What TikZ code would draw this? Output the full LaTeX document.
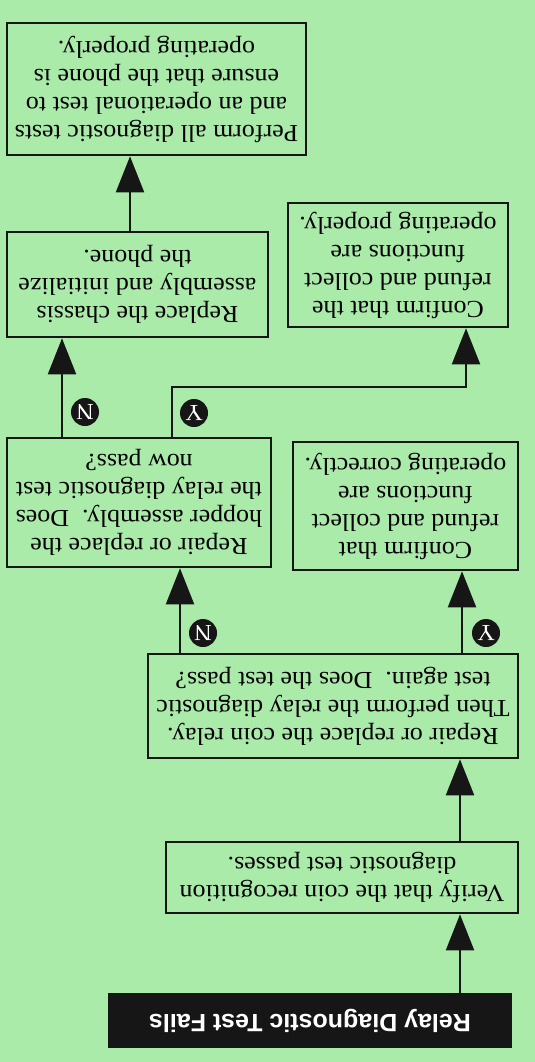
\documentclass[tikz,border=0pt]{standalone}
\usepackage{fontspec}
\setmainfont{Liberation Serif}[FakeStretch=1.06]
\newfontfamily\titlefont{Liberation Sans}
\usetikzlibrary{arrows.meta}
\definecolor{bg}{RGB}{170,235,170}
\definecolor{ink}{RGB}{22,22,22}
\tikzset{
  box/.style={draw=ink, line width=2.6pt, fill=bg, rotate=180, align=center,
    inner sep=0pt, font=\fontsize{24.5}{28}\selectfont},
  titlebox/.style={fill=ink, rotate=180, inner sep=0pt, text=white,
    font=\titlefont\bfseries\fontsize{25}{28}\selectfont},
  arr/.style={draw=ink, line width=2pt, -{Triangle[width=28pt,length=36pt]}},
  tag/.style={circle, fill=ink, inner sep=0pt, minimum size=28pt, text=white,
    rotate=180, font=\fontsize{23}{23}\selectfont}
}
\begin{document}
\begin{tikzpicture}[x=1pt,y=-1pt]
\useasboundingbox (0,0) rectangle (535,1062);
\fill[bg] (0,0) rectangle (535,1062);

\node[titlebox, minimum width=404pt, minimum height=55pt] (title) at (310,1020.5) {Relay Diagnostic Test Fails};
\node[box, minimum width=352pt, minimum height=71pt] (verify) at (342,877.5)
  {Verify that the coin recognition\\diagnostic test passes.};
\node[box, minimum width=370pt, minimum height=104pt] (relay) at (333,706)
  {Repair or replace the coin relay.\\Then perform the relay diagnostic\\test again.\ \ Does the test pass?};
\node[box, minimum width=225pt, minimum height=128pt] (confa) at (405.5,506)
  {Confirm that\\refund and collect\\functions are\\operating correctly.};
\node[box, minimum width=264pt, minimum height=129pt] (hopper) at (139,502.5)
  {Repair or replace the\\hopper assembly.\ \ Does\\the relay diagnostic test\\now pass?};
\node[box, minimum width=261pt, minimum height=105pt] (chassis) at (137.5,284.5)
  {Replace the chassis\\assembly and initialize\\the phone.};
\node[box, minimum width=220pt, minimum height=124pt] (confb) at (398,265)
  {Confirm that the\\refund and collect\\functions are\\operating properly.};
\node[box, minimum width=299pt, minimum height=132pt] (perform) at (156.5,89)
  {Perform all diagnostic tests\\and an operational test to\\ensure that the phone is\\operating properly.};

\coordinate (xa) at (460,0);
\coordinate (xy1) at (462,0);
\coordinate (xn1) at (180,0);
\coordinate (xn2) at (62,0);
\coordinate (xr) at (130,0);
\coordinate (ya) at (172,387);
\coordinate (yb) at (466,387);

\draw[arr] (xa |- title.south) -- (xa |- verify.north);
\draw[arr] (xa |- verify.south) -- (xa |- relay.north);
\draw[arr] (xy1 |- relay.south) -- (xy1 |- confa.north);
\draw[arr] (xn1 |- relay.south) -- (xn1 |- hopper.north);
\draw[arr] (xn2 |- hopper.south) -- (xn2 |- chassis.north);
\draw[arr] (ya |- hopper.south) -- (ya) -- (yb) -- (yb |- confb.north);
\draw[arr] (xr |- chassis.south) -- (xr |- perform.north);

\node[tag] (ty1) at (486,633) {Y};
\node[tag] (tn1) at (203,633) {N};
\node[tag] (tn2) at (85,412) {N};
\node[tag] (ty2) at (194,413) {Y};
\end{tikzpicture}
\end{document}
